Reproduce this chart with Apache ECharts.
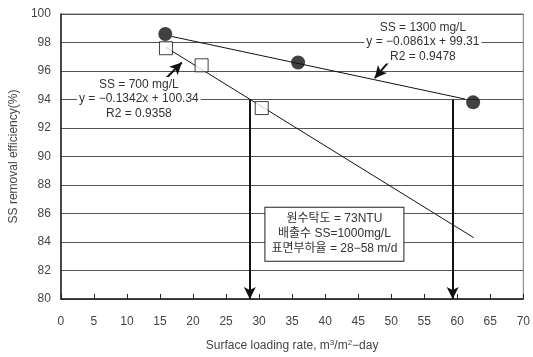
<!DOCTYPE html>
<html><head><meta charset="utf-8">
<script src="https://cdn.jsdelivr.net/npm/echarts@6/dist/echarts.min.js"></script>
<style>html,body{margin:0;padding:0;background:#fff}#c{width:533px;height:357px}</style>
</head><body><div id="c"></div>
<script>
var xTicks = [0,5,10,15,20,25,30,35,40,45,50,55,60,65,70];
var yTicks = [80,82,84,86,88,90,92,94,96,98,100];
var ss1300X = [15.8, 35.9, 62.4];
var ss1300Y = [98.6, 96.6, 93.8];
var ss700X = [15.9, 21.3, 30.4];
var ss700Y = [97.6, 96.4, 93.4];
var fit1300X = [16.8, 61.2];
var fit1300Y = [98.42, 94.03];
var fit700X = [15.9, 62.5];
var fit700Y = [97.66, 84.3];
var dropX = [28.6, 59.3];
var dropY = [94.0, 94.0];
var label700 = ['SS = 700 mg/L', 'y = −0.1342x + 100.34', 'R2 = 0.9358'];
var label1300 = ['SS = 1300 mg/L', 'y = −0.0861x + 99.31', 'R2 = 0.9478'];
var boxText = ['원수탁도 = 73NTU', '배출수 SS=1000mg/L', '표면부하율 = 28−58 m/d'];

function zip(a,b){return a.map(function(v,i){return [v,b[i]];});}
var FONT = '"Liberation Sans", "Noto Sans CJK KR", sans-serif';
var TC = '#444';

var chart = echarts.init(document.getElementById('c'));
chart.setOption({
  animation:false,
  textStyle:{fontFamily:FONT},
  grid:{left:55,right:8,top:14,bottom:55,show:true,borderColor:'#777',borderWidth:1},
  xAxis:{type:'value',min:0,max:70,interval:5,
    axisLine:{lineStyle:{color:'#222',width:1.5}},
    axisTick:{inside:true,length:5,lineStyle:{color:'#222'}},
    axisLabel:{color:TC,fontSize:12,margin:17,fontFamily:FONT},
    splitLine:{show:false},
    name:'Surface loading rate, m{s|3}/m{s|2}−day',nameLocation:'middle',nameGap:40,
    nameTextStyle:{color:TC,fontSize:12,fontFamily:FONT,rich:{s:{fontSize:8,verticalAlign:'top',color:TC,padding:[0,0,6,0]}}}
  },
  yAxis:{type:'value',min:80,max:100,interval:2,
    axisLine:{show:true,lineStyle:{color:'#222',width:1.5}},
    axisTick:{show:false},
    axisLabel:{color:TC,fontSize:12,margin:10,fontFamily:FONT},
    splitLine:{lineStyle:{color:'#555',width:1}},
    name:'SS removal efficiency(%)',nameLocation:'middle',nameGap:33,
    nameTextStyle:{color:TC,fontSize:12,fontFamily:FONT}
  },
  series:[
    {type:'line',data:zip(fit700X,fit700Y),symbol:'none',lineStyle:{color:'#111',width:1},z:3},
    {type:'line',data:zip(fit1300X,fit1300Y),symbol:'none',lineStyle:{color:'#111',width:1},z:3},
    {type:'scatter',data:zip(ss700X,ss700Y),symbol:'rect',symbolSize:13,
      itemStyle:{color:'#fff',borderColor:'#111',borderWidth:1},z:4},
    {type:'scatter',data:zip(ss1300X,ss1300Y),symbol:'circle',symbolSize:14,
      itemStyle:{color:'#111'},z:4},
    {type:'scatter',data:[],z:6,
      markPoint:{silent:true,symbol:'rect',symbolSize:0,
        label:{show:true,color:'#333',fontSize:12,fontFamily:FONT,lineHeight:14.5,
          backgroundColor:'#fff',align:'center',verticalAlign:'middle'},
        data:[
          {coord:[11.8,94.05],label:{formatter:label700.join('\n'),padding:[0,2]}},
          {coord:[54.8,98.05],label:{formatter:label1300.join('\n'),padding:[0,2]}},
          {coord:[41.4,84.55],label:{formatter:boxText.join('\n'),borderColor:'#222',borderWidth:1,
            padding:[4,8,4,8],width:122,lineHeight:15}}
        ]}
    },
    {type:'line',data:[],z:7,
      markLine:{silent:true,symbol:['none','arrow'],symbolSize:[9,12],
        lineStyle:{color:'#111',width:2,type:'solid'},label:{show:false},
        data:[
          [{coord:[dropX[0],dropY[0]]},{coord:[dropX[0],80]}],
          [{coord:[dropX[1],dropY[1]]},{coord:[dropX[1],80]}],
          [{coord:[15.5,95.3]},{coord:[18.3,96.6]}],
          [{coord:[49.9,96.8]},{coord:[47.5,95.5]}]
        ]}
    }
  ]
});
</script></body></html>
